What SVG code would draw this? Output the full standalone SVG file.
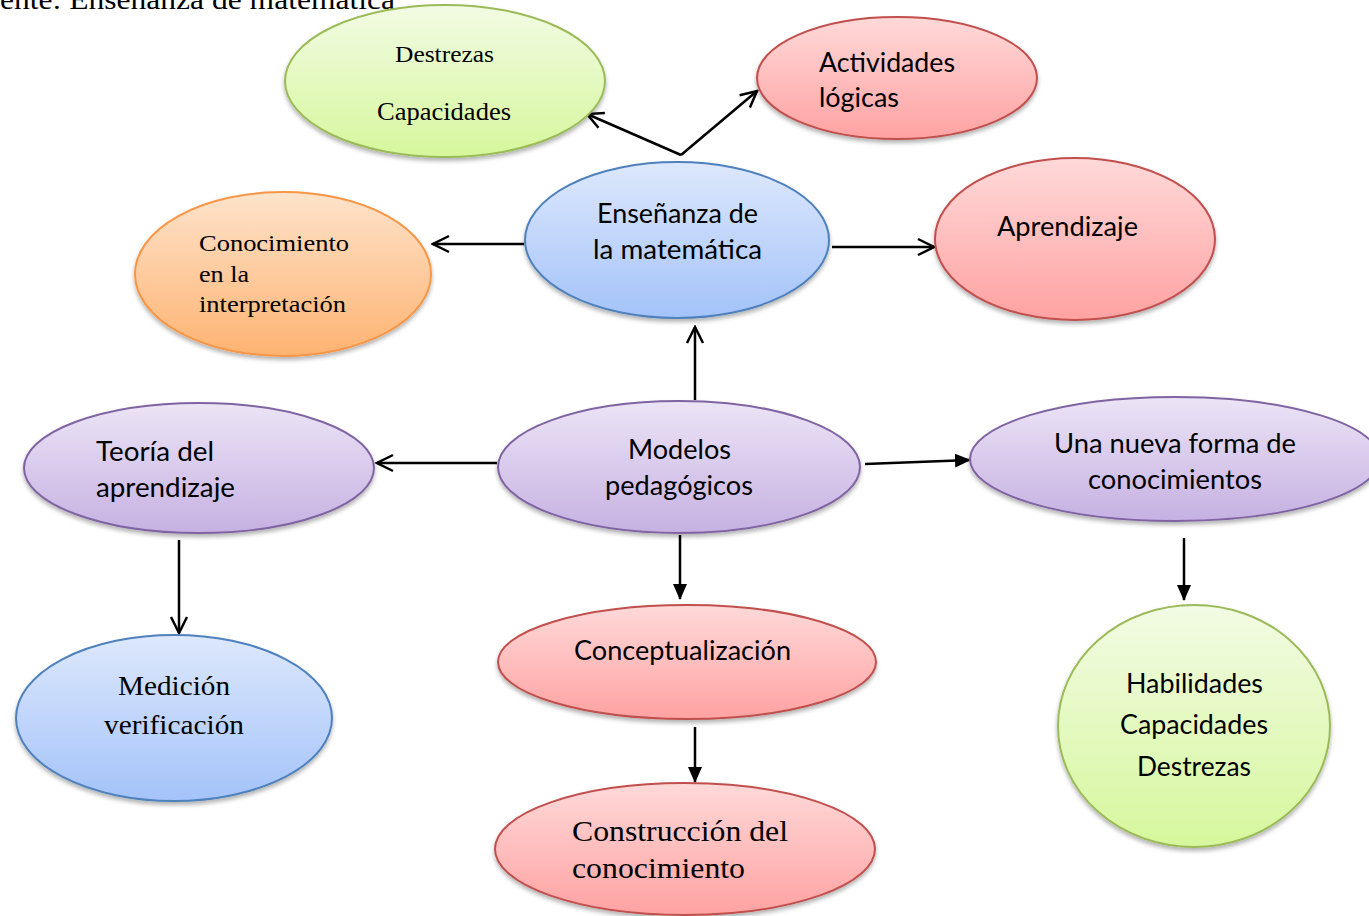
<svg xmlns="http://www.w3.org/2000/svg" width="1369" height="916" viewBox="0 0 1369 916">
<defs>
<linearGradient id="gGreen" x1="0" y1="0" x2="0" y2="1"><stop offset="0" stop-color="#f2fbe4"/><stop offset="1" stop-color="#d6f79c"/></linearGradient>
<linearGradient id="gRed" x1="0" y1="0" x2="0" y2="1"><stop offset="0" stop-color="#ffd9d9"/><stop offset="1" stop-color="#ffa2a2"/></linearGradient>
<linearGradient id="gBlue" x1="0" y1="0" x2="0" y2="1"><stop offset="0" stop-color="#dde8fc"/><stop offset="1" stop-color="#a4c3f9"/></linearGradient>
<linearGradient id="gOrange" x1="0" y1="0" x2="0" y2="1"><stop offset="0" stop-color="#fee3cb"/><stop offset="1" stop-color="#fdb371"/></linearGradient>
<linearGradient id="gPurple" x1="0" y1="0" x2="0" y2="1"><stop offset="0" stop-color="#ece4f6"/><stop offset="1" stop-color="#c6b1e2"/></linearGradient>
<filter id="sh" x="-10%" y="-10%" width="120%" height="130%"><feDropShadow dx="0" dy="3" stdDeviation="2" flood-color="#000" flood-opacity="0.3"/></filter>
<marker id="open" viewBox="0 0 20 20" refX="18" refY="10" markerWidth="20" markerHeight="20" markerUnits="userSpaceOnUse" orient="auto"><path d="M2,2 L18,10 L2,18" fill="none" stroke="#000" stroke-width="2.5"/></marker>
<marker id="fill" viewBox="0 0 16 16" refX="15" refY="8" markerWidth="16" markerHeight="16" markerUnits="userSpaceOnUse" orient="auto"><path d="M0,1 L16,8 L0,15 Z" fill="#000"/></marker>
</defs>
<style>
.n{filter:url(#sh);stroke-width:2}
.green{fill:url(#gGreen);stroke:#9bbb59}
.red{fill:url(#gRed);stroke:#c0504d}
.blue{fill:url(#gBlue);stroke:#4f81bd}
.orange{fill:url(#gOrange);stroke:#f79646}
.purple{fill:url(#gPurple);stroke:#8064a2}
.c{font-family:Lato,"Open Sans",sans-serif;font-size:26px;fill:#000}
.t{font-family:"Liberation Serif","Times New Roman",serif;fill:#000}
.m{text-anchor:middle}
.e{stroke:#000;stroke-width:2.5;fill:none}
.o{marker-end:url(#open)}
.f{marker-end:url(#fill)}
</style>
<text class="t" x="0" y="9" font-size="28" textLength="395" lengthAdjust="spacingAndGlyphs">ente: Enseñanza de matemática</text>
<g id="connectors">
<path class="e o" d="M681,155 L587,114"/>
<path class="e o" d="M681,155 L757,91"/>
<path class="e o" d="M524,244 L433,244"/>
<path class="e o" d="M832,247 L934,247"/>
<path class="e o" d="M695,400 L695,327"/>
<path class="e o" d="M497,463 L377,463"/>
<path class="e f" d="M865,464 L970,460"/>
<path class="e f" d="M680,535 L680,599"/>
<path class="e o" d="M179,540 L179,633"/>
<path class="e f" d="M695,727 L695,782"/>
<path class="e f" d="M1184,538 L1184,600"/>
</g>
<g id="destrezas">
<ellipse class="n green" cx="445" cy="81" rx="160" ry="76"/>
<text class="t" x="395" y="62" font-size="23" textLength="99" lengthAdjust="spacingAndGlyphs">Destrezas</text>
<text class="t" x="377" y="120" font-size="25" textLength="134" lengthAdjust="spacingAndGlyphs">Capacidades</text>
</g>
<g id="actividades">
<ellipse class="n red" cx="897" cy="78" rx="140" ry="61"/>
<text class="c" x="819" y="72" textLength="136" lengthAdjust="spacingAndGlyphs">Actividades</text>
<text class="c" x="819" y="107" textLength="80" lengthAdjust="spacingAndGlyphs">lógicas</text>
</g>
<g id="ensenanza">
<ellipse class="n blue" cx="677" cy="240" rx="152" ry="78"/>
<text class="c" x="597" y="223" textLength="161" lengthAdjust="spacingAndGlyphs">Enseñanza de</text>
<text class="c" x="593" y="259" textLength="169" lengthAdjust="spacingAndGlyphs">la matemática</text>
</g>
<g id="aprendizaje">
<ellipse class="n red" cx="1075" cy="239" rx="140" ry="81"/>
<text class="c" x="997" y="236" textLength="141" lengthAdjust="spacingAndGlyphs">Aprendizaje</text>
</g>
<g id="conocimiento">
<ellipse class="n orange" cx="283" cy="274" rx="148" ry="82"/>
<text class="t" x="199" y="251" font-size="23" textLength="150" lengthAdjust="spacingAndGlyphs">Conocimiento</text>
<text class="t" x="199" y="282" font-size="23" textLength="50" lengthAdjust="spacingAndGlyphs">en la</text>
<text class="t" x="199" y="312" font-size="23" textLength="147" lengthAdjust="spacingAndGlyphs">interpretación</text>
</g>
<g id="teoria">
<ellipse class="n purple" cx="199" cy="468" rx="175" ry="65"/>
<text class="c" x="96" y="461" textLength="118" lengthAdjust="spacingAndGlyphs">Teoría del</text>
<text class="c" x="96" y="497" textLength="139" lengthAdjust="spacingAndGlyphs">aprendizaje</text>
</g>
<g id="modelos">
<ellipse class="n purple" cx="679" cy="467" rx="181" ry="66"/>
<text class="c" x="628" y="459" textLength="103" lengthAdjust="spacingAndGlyphs">Modelos</text>
<text class="c" x="605" y="495" textLength="148" lengthAdjust="spacingAndGlyphs">pedagógicos</text>
</g>
<g id="nueva">
<ellipse class="n purple" cx="1175" cy="459" rx="205" ry="62"/>
<text class="c" x="1054" y="453" textLength="242" lengthAdjust="spacingAndGlyphs">Una nueva forma de</text>
<text class="c" x="1088" y="489" textLength="174" lengthAdjust="spacingAndGlyphs">conocimientos</text>
</g>
<g id="medicion">
<ellipse class="n blue" cx="174" cy="718" rx="158" ry="83"/>
<text class="t" x="118" y="695" font-size="27" textLength="112" lengthAdjust="spacingAndGlyphs">Medición</text>
<text class="t" x="104" y="734" font-size="27" textLength="140" lengthAdjust="spacingAndGlyphs">verificación</text>
</g>
<g id="conceptualizacion">
<ellipse class="n red" cx="687" cy="662" rx="189" ry="57"/>
<text class="c" x="574" y="660" textLength="217" lengthAdjust="spacingAndGlyphs">Conceptualización</text>
</g>
<g id="construccion">
<ellipse class="n red" cx="685" cy="849" rx="190" ry="66"/>
<text class="t" x="572" y="841" font-size="29" textLength="216" lengthAdjust="spacingAndGlyphs">Construcción del</text>
<text class="t" x="572" y="878" font-size="29" textLength="173" lengthAdjust="spacingAndGlyphs">conocimiento</text>
</g>
<g id="habilidades">
<ellipse class="n green" cx="1194" cy="726" rx="136" ry="121"/>
<text class="c" x="1126" y="693" textLength="137" lengthAdjust="spacingAndGlyphs">Habilidades</text>
<text class="c" x="1120" y="734" textLength="148" lengthAdjust="spacingAndGlyphs">Capacidades</text>
<text class="c" x="1137" y="776" textLength="114" lengthAdjust="spacingAndGlyphs">Destrezas</text>
</g>
</svg>
